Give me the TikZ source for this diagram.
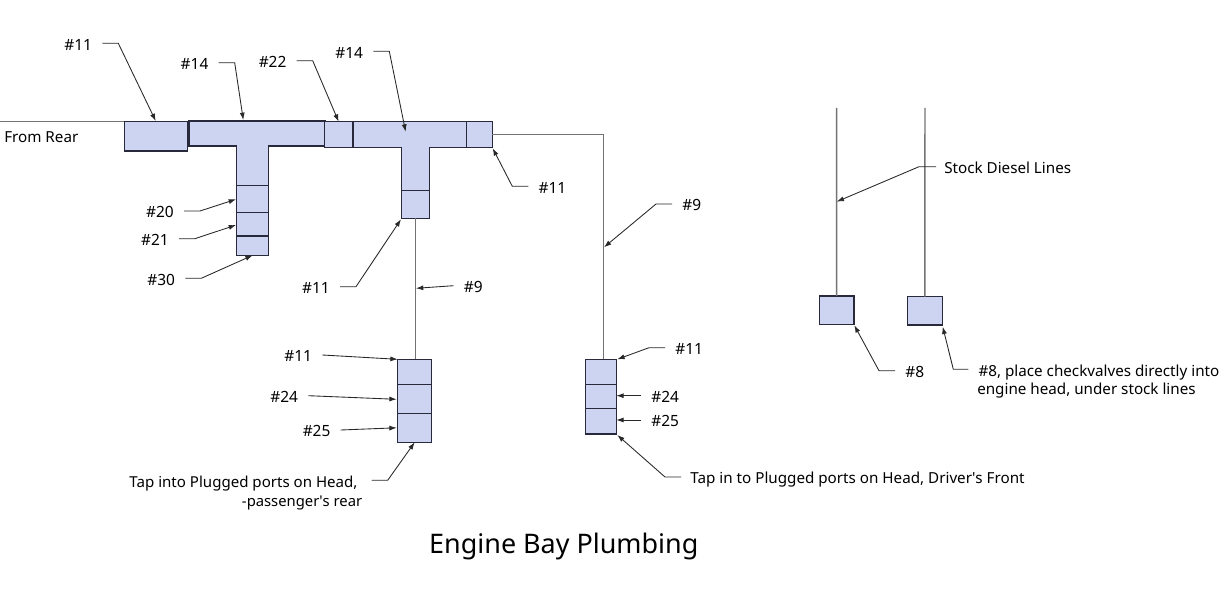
\documentclass[tikz,border=0pt]{standalone}
\usepackage{fontspec}
\setmainfont{Noto Sans}
\usetikzlibrary{arrows.meta,positioning,calc}
\definecolor{partfill}{RGB}{204,212,242}
\definecolor{partline}{RGB}{40,42,60}
\definecolor{pipeline}{RGB}{115,115,115}
\definecolor{leadline}{RGB}{40,40,40}
\tikzstyle{part} = [draw=partline, fill=partfill, line width=.8pt, inner sep=0pt, outer sep=0pt]
\tikzstyle{Pipe} = [draw=pipeline, line width=1.1pt]
\tikzstyle{Leader} = [-{Latex[length=5.5pt,width=3.8pt]}, draw=leadline, line width=.65pt]
\tikzstyle{tag} = [inner ysep=0pt, inner xsep=7.5pt, text height=10.2pt, text depth=0pt, font=\fontsize{11.6pt}{13pt}\selectfont]
\tikzstyle{note} = [inner ysep=0pt, inner xsep=0pt, text height=10.2pt, text depth=0pt, font=\fontsize{11.4pt}{13pt}\selectfont]
\tikzset{partsize/.style 2 args={minimum width=#1*.75pt, minimum height=#2*.75pt}}

\begin{document}
\begin{tikzpicture}[x=.75pt,y=-.75pt]
            \useasboundingbox (0,0) rectangle (1228,591);
            %%%%% Top row %%%%%
            \node (A) [part, partsize={63.4}{29.3}, anchor=north west] at (124.3,121.7) {};
            \node (B) [part, partsize={136}{25}, anchor=north west] at (189,121) {};
            \node (Bs) [part, partsize={32}{39.7}, anchor=north west] at (236.7,146) {};
            \fill[partfill] ($(Bs.north west)+(.6,-1.2)$) rectangle ($(Bs.north east)+(-.6,1.2)$);
            \node (C) [part, partsize={28.7}{25.6}, anchor=north west] at (324.3,121.7) {};
            \node (D) [part, partsize={113.3}{25.6}, right=0pt of C] {};
            \node (E) [part, partsize={26}{25.6}, right=0pt of D] {};
            \node (Ds) [part, partsize={27.6}{43}, anchor=north west] at (401.7,147.3) {};
            \fill[partfill] ($(Ds.north west)+(.6,-1.2)$) rectangle ($(Ds.north east)+(-.6,1.2)$);
            %%%%% Under the first tee %%%%%
            \node (F) [part, partsize={32}{26.6}, below=0pt of Bs] {};
            \node (G) [part, partsize={32}{23.7}, below=0pt of F] {};
            \node (H) [part, partsize={32}{19.3}, below=0pt of G] {};
            %%%%% Under the second tee %%%%%
            \node (I) [part, partsize={27.6}{28}, below=0pt of Ds] {};
            \node (J) [part, partsize={34}{25}, anchor=north west] at (397.7,359.3) {};
            \node (K) [part, partsize={34}{29}, below=0pt of J] {};
            \node (L) [part, partsize={34}{29}, below=0pt of K] {};
            %%%%% Far branch %%%%%
            \node (M) [part, partsize={30.6}{25}, anchor=north west] at (585.7,359.3) {};
            \node (N) [part, partsize={30.6}{24.4}, below=0pt of M] {};
            \node (O) [part, partsize={30.6}{25.3}, below=0pt of N] {};
            %%%%% Stock lines %%%%%
            \node (P) [part, partsize={34.7}{28.3}, anchor=north west] at (819.3,296) {};
            \node (Q) [part, partsize={35}{28.3}, anchor=north west] at (907.3,296.7) {};
            \coordinate (Rear) at (0,121.7);
            \coordinate (Ptop) at (836.7,108);
            \coordinate (Qtop) at (925,108);
            %%%%% Pipes %%%%%
            \draw [Pipe] (Rear) -- (A.north west);
            \draw [Pipe] (E.east) -| ($(M.north)+(2.3,0)$);
            \draw [Pipe] (I.south) -- (I.south |- J.north);
            \draw [Pipe] (Ptop) -- (P.north);
            \draw [Pipe] (Qtop) -- (Q.north);
            %%%%% Labels %%%%%
            \node (Rlab) [note, anchor=west] at (4,136) {From Rear};
            \node (l1) [tag, anchor=east] at (102.3,43.3) {\#11};
            \node (l2) [tag, anchor=east] at (218.7,62.7) {\#14};
            \node (l3) [tag, anchor=east] at (296.7,60.7) {\#22};
            \node (l4) [tag, anchor=east] at (373.3,51.3) {\#14};
            \node (l5) [tag, anchor=west] at (528.3,186.3) {\#11};
            \node (l6) [tag, anchor=west] at (672,204) {\#9};
            \node (l7) [tag, anchor=west] at (453.5,285.7) {\#9};
            \node (l8) [tag, anchor=east] at (340,286.7) {\#11};
            \node (l9) [tag, anchor=east] at (184,211) {\#20};
            \node (l10) [tag, anchor=east] at (179,238.7) {\#21};
            \node (l11) [tag, anchor=east] at (185.3,278.3) {\#30};
            \node (l12) [tag, anchor=east] at (322.3,355) {\#11};
            \node (l13) [tag, anchor=east] at (308.3,395.7) {\#24};
            \node (l14) [tag, anchor=east] at (340.7,430) {\#25};
            \node (l15) [tag, anchor=west] at (665,347.7) {\#11};
            \node (l16) [tag, anchor=west] at (641,395.7) {\#24};
            \node (l17) [tag, anchor=west] at (641,420) {\#25};
            \node (l18) [tag, anchor=east, inner xsep=10.5pt, font=\fontsize{11.3pt}{13pt}\selectfont] at (371.7,480.3) {Tap into Plugged ports on Head,};
            \node (l18b) [note, anchor=east, font=\fontsize{11.1pt}{13pt}\selectfont] at (362.5,500) {-passenger\textquotesingle s rear};
            \node (l19) [tag, anchor=west, inner xsep=6.8pt, font=\fontsize{11.4pt}{13pt}\selectfont] at (681,477) {Tap in to Plugged ports on Head, Driver\textquotesingle s Front};
            \node (l20) [tag, anchor=west, inner xsep=6pt, font=\fontsize{11.4pt}{13pt}\selectfont] at (936,166.7) {Stock Diesel Lines};
            \node (l21) [tag, anchor=west] at (895,370.7) {\#8};
            \node (l22) [tag, anchor=west, font=\fontsize{11.4pt}{13pt}\selectfont] at (968.3,369.3) {\#8, place checkvalves directly into};
            \node (l22b) [note, anchor=west] at (977,388) {engine head, under stock lines};
            \node (Title) [font=\fontsize{20.2pt}{25pt}\selectfont, inner sep=0pt, anchor=base] at (563.8,553.3) {Engine Bay Plumbing};
            %%%%% Leaders %%%%%
            \draw [Leader] (l1.east) -- ++(16,0) -- ($(A.north)+(-.3,-.7)$);
            \draw [Leader] (l2.east) -- ++(16,0) -- ($(B.north)+(-13.7,-1)$);
            \draw [Leader] (l3.east) -- ++(16,0) -- (C.north);
            \draw [Leader] (l4.east) -- ++(16,0) -- ($(D.north)+(-4,10)$);
            \draw [Leader] (l5.west) -- ++(-16,0) -- ($(E.south east)+(.4,1)$);
            \draw [Leader] (l6.west) -- ++(-16,0) -- ($(M.north)+(3,-112)$);
            \draw [Leader] (l7.west) -- ($(I.south)+(.5,70)$);
            \draw [Leader] (l8.east) -- ++(16,0) -- ($(I.south west)+(-.7,1)$);
            \draw [Leader] (l9.east) -- ++(16,0) -- ($(F.west)+(-.7,.3)$);
            \draw [Leader] (l10.east) -- ++(16,0) -- ($(G.west)+(-.7,.9)$);
            \draw [Leader] (l11.east) -- ++(16,0) -- (H.south);
            \draw [Leader] (l12.east) -- (J.north west);
            \draw [Leader] (l13.east) -- ($(K.west)+(-1,.5)$);
            \draw [Leader] (l14.east) -- ($(L.west)+(-1,0)$);
            \draw [Leader] (l18.east) -- ++(16,0) -- (L.south);
            \draw [Leader] (l15.west) -- ++(-16,0) -- ($(M.north east)+(1,0)$);
            \draw [Leader] (l16.west) -- (l16.west -| N.east);
            \draw [Leader] (l17.west) -- (l17.west -| O.east);
            \draw [Leader] (l19.west) -- ++(-16,0) -- ($(O.south east)+(1,1)$);
            \draw [Leader] (l20.west) -- ++(-17,0) -- ($(P.north)+(0,-94.3)$);
            \draw [Leader] (l21.west) -- ++(-16,0) -- ($(P.south east)+(.3,1)$);
            \draw [Leader] (l22.west) -- ++(-15,0) -- ($(Q.south east)+(.4,1.7)$);
        \end{tikzpicture}
\end{document}
